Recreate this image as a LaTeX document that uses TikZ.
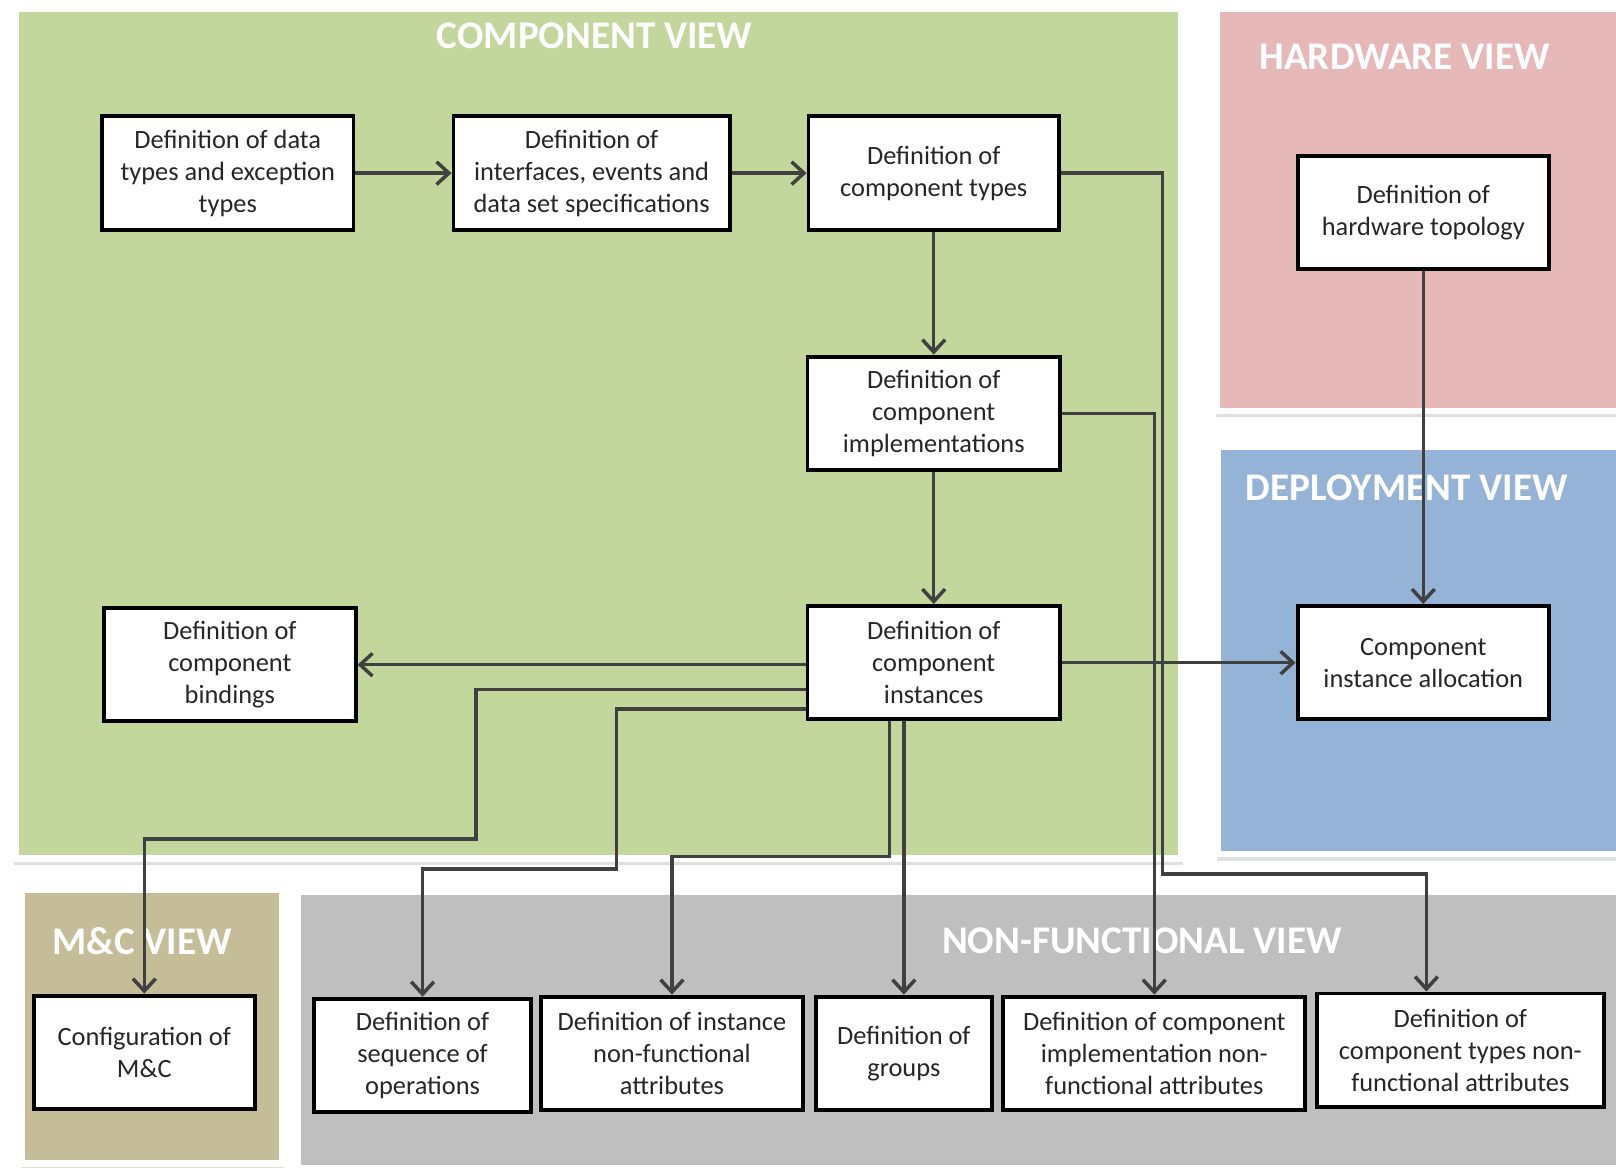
\documentclass[tikz,border=0pt]{standalone}
\usepackage{fontspec}
\setmainfont{Carlito}
\usetikzlibrary{shapes,arrows.meta}
\definecolor{compgreen}{HTML}{C3D69B}
\definecolor{hwpink}{HTML}{E6B9B8}
\definecolor{depblue}{HTML}{95B3D7}
\definecolor{mctan}{HTML}{C4BD97}
\definecolor{nfgray}{HTML}{BFBFBF}
\definecolor{linegray}{HTML}{404040}
\tikzstyle{block} = [rectangle, draw, fill=white, line width=1.9pt, align=center,
text=black!85, minimum height=55pt, font=\fontsize{12.8}{15.5}\selectfont]
\tikzstyle{line} = [draw, linegray, line width=1.7pt, -{Straight Barb[length=6pt,width=11pt]}]
\tikzstyle{viewtitle} = [text=white, font=\fontsize{19}{22}\selectfont\bfseries]
% background panel: colour, corners
\newcommand{\viewpanel}[5]{%
  \fill[black!12] (#2-4,#3-2) rectangle (#4+5,#5+9);
  \fill[white] (#2-6,#3-6) rectangle (#4+6,#5+6);
  \fill[#1] (#2,#3) rectangle (#4,#5);}

\begin{document}
\begin{tikzpicture}[x=0.5pt, y=-0.5pt]
\useasboundingbox (0,0) rectangle (1568,1133);
% Views
\viewpanel{compgreen}{18}{12}{1143}{830}
\viewpanel{hwpink}{1184}{12}{1580}{396}
\viewpanel{depblue}{1185}{437}{1580}{826}
\viewpanel{mctan}{24}{866}{271}{1126}
\viewpanel{nfgray}{292}{868}{1580}{1130}
\node [viewtitle] (comptitle) at (577,35) {COMPONENT VIEW};
\node [viewtitle] (hwtitle) at (1363,55) {HARDWARE VIEW};
\node [viewtitle] (deptitle) at (1365,473) {DEPLOYMENT VIEW};
\node [viewtitle] (mctitle) at (138,913) {M\&C VIEW};
\node [viewtitle] (nftitle) at (1108,913) {NON-FUNCTIONAL VIEW};
% Place nodes
\node [block, minimum width=122pt] (dtypes) at (221,168) {Definition of data\\types and exception\\types};
\node [block, minimum width=134pt] (ifaces) at (574,168) {Definition of\\interfaces, events and\\data set specifications};
\node [block, minimum width=121.5pt] (ctypes) at (906,168) {Definition of\\component types};
\node [block, minimum width=122.5pt, below of=ctypes, node distance=116.5pt] (cimpl) {Definition of\\component\\implementations};
\node [block, minimum width=122.5pt, below of=cimpl, node distance=121pt] (cinst) {Definition of\\component\\instances};
\node [block, minimum width=122pt] (bind) at (223,645) {Definition of\\component\\bindings};
\node [block, minimum width=122pt] (hwtopo) at (1381,206) {Definition of\\hardware topology};
\node [block, minimum width=122pt, below of=hwtopo, node distance=218.5pt] (alloc) {Component\\instance allocation};
\node [block, minimum width=107pt] (mcconf) at (140,1021) {Configuration of\\M\&C};
\node [block, minimum width=105pt] (seqops) at (410,1024) {Definition of\\sequence of\\operations};
\node [block, minimum width=127.5pt] (instnf) at (652,1022) {Definition of instance\\non-functional\\attributes};
\node [block, minimum width=85.5pt] (groups) at (877,1022) {Definition of\\groups};
\node [block, minimum width=146.5pt] (implnf) at (1120,1022) {Definition of component\\implementation non-\\functional attributes};
\node [block, minimum width=139.5pt] (typesnf) at (1417,1019) {Definition of\\component types non-\\functional attributes};
% Bends
\coordinate (mcbend) at (462,814);
\coordinate (seqbend) at (598,843);
\coordinate (instbend) at (652,831);
\coordinate (typesbend) at (1128,848);
% Connectors
\path [line] (dtypes) -- (ifaces);
\path [line] (ifaces) -- (ctypes);
\path [line] (ctypes) -- (cimpl);
\path [line] (cimpl) -- (cinst);
\path [line] (hwtopo) -- (alloc);
\path [line] (cinst.east |- alloc.west) -- (alloc.west);
\path [line] (cinst.west |- bind.east) -- (bind.east);
\path [line] ([yshift=-13pt]cinst.west) -| (mcbend) -| (mcconf.north);
\path [line] ([yshift=-22.5pt]cinst.west) -| (seqbend) -| (seqops.north);
\path [line] ([xshift=-21.5pt]cinst.south) |- (instbend) -- (instnf.north);
\path [line] (cinst.south -| groups.north) -- (groups.north);
\path [line] (cimpl.east) -| (implnf.north);
\path [line] (ctypes.east) -| (typesbend) -| ([xshift=-16.5pt]typesnf.north);
\end{tikzpicture}
\end{document}
